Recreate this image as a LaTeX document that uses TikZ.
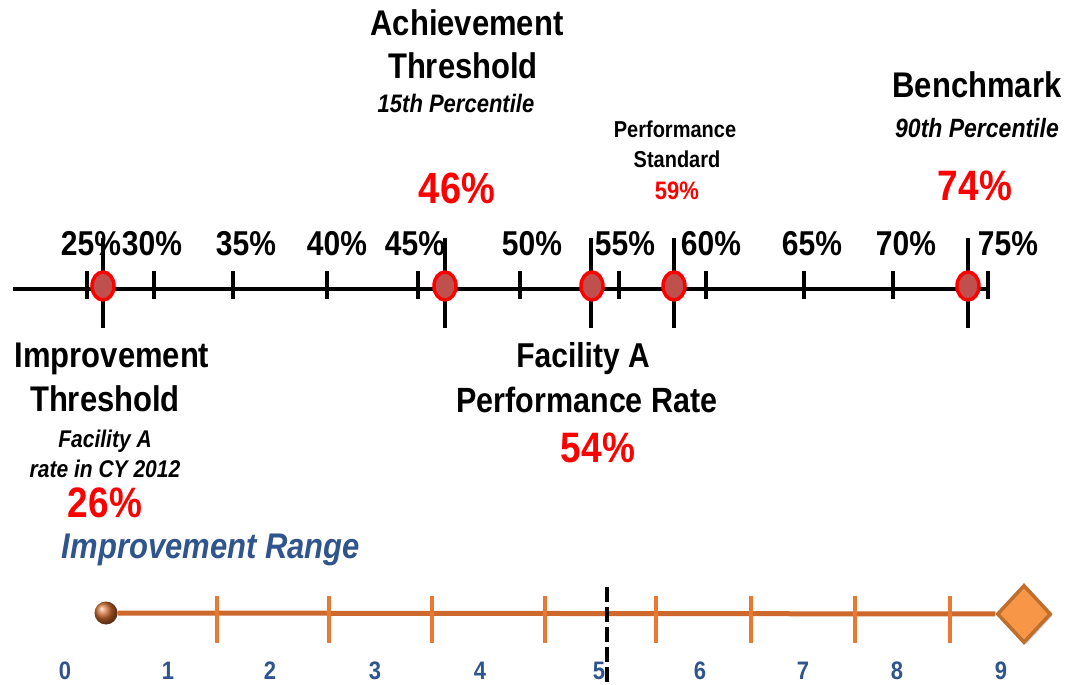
\documentclass[tikz,border=0pt]{standalone}
\usepackage{fontspec}
\usepackage{graphicx}
\setmainfont{Liberation Sans}
\usetikzlibrary{shapes.geometric,shadows}
\definecolor{ptred}{RGB}{255,0,0}
\definecolor{dotfill}{RGB}{192,80,77}
\definecolor{rangeblue}{RGB}{47,85,140}
\definecolor{orline}{RGB}{205,105,45}
\definecolor{ortick}{RGB}{232,120,50}
\definecolor{diafill}{RGB}{247,150,70}
\definecolor{diaedge}{RGB}{190,110,45}
\newcommand\T[1]{\scalebox{1}[1.15]{#1}}
\begin{document}
\begin{tikzpicture}[x=1pt,y=-1pt,
  txt/.style={inner sep=0pt,anchor=base},
  bigtxt/.style={txt,font=\fontsize{31}{31}\selectfont\bfseries},
  subtxt/.style={txt,font=\fontsize{22}{22}\selectfont\bfseries\itshape},
  midtxt/.style={txt,font=\fontsize{20}{20}\selectfont\bfseries},
  pcttxt/.style={txt,text=ptred,font=\fontsize{37}{37}\selectfont\bfseries},
  ticklbl/.style={txt,font=\fontsize{30}{30}\selectfont\bfseries},
  digit/.style={txt,text=rangeblue,font=\fontsize{22}{22}\selectfont\bfseries},
  axis/.style={line width=4.5pt,black},
  tickmark/.style={line width=4pt,black},
  vline/.style={line width=4pt,black},
  dot/.style={ellipse,draw=ptred,line width=3.5pt,fill=dotfill,minimum width=22pt,minimum height=28pt,inner sep=0pt},
  rtick/.style={line width=3.5pt,ortick},
]
\fill[white] (0,0) rectangle (1066,685);
\useasboundingbox (0,0) rectangle (1066,685);

% top labels
\node[bigtxt] (ach1) at (467,36) {\T{Achievement}};
\node[bigtxt] (ach2) at (463,79) {\T{Threshold}};
\node[subtxt] (ach3) at (456,112) {\T{15th Percentile}};
\node[pcttxt,font=\fontsize{38}{38}\selectfont\bfseries] (ach4) at (457,203) {\T{46\%}};

\node[midtxt] (ps1) at (675,137) {\T{Performance}};
\node[midtxt] (ps2) at (677,167) {\T{Standard}};
\node[txt,text=ptred,font=\fontsize{22}{22}\selectfont\bfseries] (ps3) at (677,199) {\T{59\%}};

\node[bigtxt] (bm1) at (977,98) {\T{Benchmark}};
\node[subtxt,font=\fontsize{23}{23}\selectfont\bfseries\itshape] (bm2) at (977,137) {\T{90th Percentile}};
\node[pcttxt] (bm3) at (975,200) {\T{74\%}};

% bottom labels
\node[bigtxt] (it1) at (112,367) {\T{Improvement}};
\node[bigtxt] (it2) at (105,411) {\T{Threshold}};
\node[subtxt,font=\fontsize{21}{21}\selectfont\bfseries\itshape] (it3) at (105,447) {\T{Facility A}};
\node[subtxt,font=\fontsize{21}{21}\selectfont\bfseries\itshape] (it4) at (105,477) {\T{rate in CY 2012}};
\node[pcttxt] (it5) at (105,517) {\T{26\%}};

\node[bigtxt,font=\fontsize{30}{30}\selectfont\bfseries] (fa1) at (583,367) {\T{Facility A}};
\node[bigtxt,font=\fontsize{30.5}{30.5}\selectfont\bfseries] (fa2) at (587,412) {\T{Performance Rate}};
\node[pcttxt] (fa3) at (598,462) {\T{54\%}};

\node[txt,text=rangeblue,font=\fontsize{31}{31}\selectfont\bfseries\itshape] (ir) at (211,558) {\T{Improvement Range}};

% tick labels
\foreach \x/\t [count=\i] in {91/25,152/30,246/35,337/40,415/45,532/50,625/55,711/60,812/65,906/70,1008/75}
  \node[ticklbl] (tl\i) at (\x,255) {\T{\t\%}};

% main axis
\coordinate (axL) at (13,289);
\coordinate (axR) at (988,289);
\draw[axis] (axL) -- (axR);
\foreach \x in {87,154,233,327,418,520,619,706,804,893,988}
  \draw[tickmark] (\x,271) -- (\x,299);
\foreach \x in {103,445,591,674,968}
  \draw[vline] (\x,238) -- (\x,328);
\node[dot] (d26) at (103,286) {};
\node[dot] (d46) at (445,286) {};
\node[dot] (d54) at (592,286) {};
\node[dot] (d59) at (674,286) {};
\node[dot] (d74) at (968,286) {};

% improvement range scale
\foreach \x/\t [count=\i] in {65/0,168/1,270/2,375/3,480/4,599/5,700/6,803/7,897/8,1001/9}
  \node[digit] (dg\i) at (\x,679) {\T{\t}};
\node[circle,minimum size=23pt,inner sep=0pt,ball color=orline] (sph) at (106,613) {};
\node[diamond,draw=diaedge,fill=diafill,line width=3.5pt,minimum width=54pt,minimum height=58pt,inner sep=0pt,
  drop shadow={opacity=0.35,shadow xshift=2pt,shadow yshift=-2pt}] (dia) at (1024,614) {};
\draw[line width=5pt,orline] (sph) -- (dia);
\foreach \x in {217,329,432,545,656,751,855,950}
  \draw[rtick] (\x,596) -- (\x,643);
\coordinate (dsT) at (607,587);
\coordinate (dsB) at (607,685);
\draw[line width=4pt,black,dash pattern=on 15pt off 5pt] (dsT) -- (dsB);
\end{tikzpicture}
\end{document}
